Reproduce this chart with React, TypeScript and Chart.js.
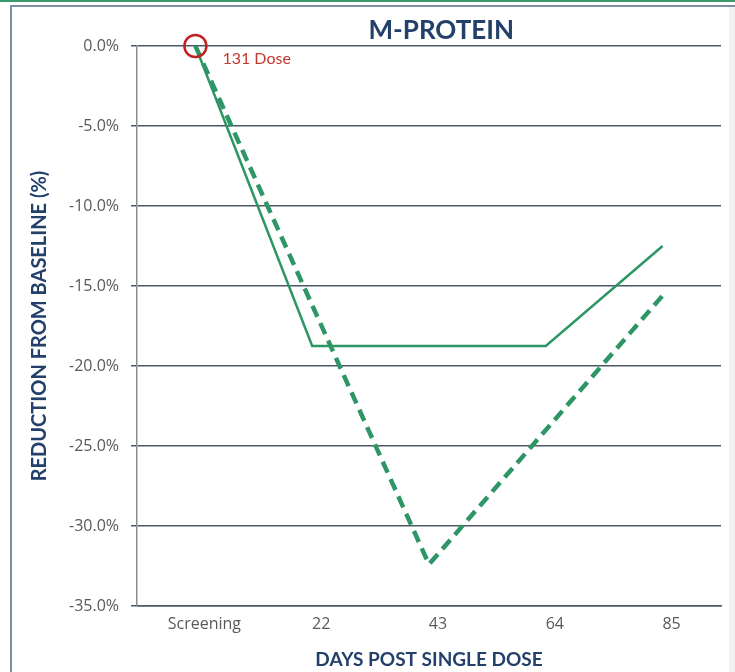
import React, { useEffect, useRef } from "react";
import { Chart, registerables } from "chart.js";

Chart.register(...registerables);

// ---- data ----
const categories = ["Screening", "22", "43", "64", "85"];
const solidSeries = [0, -18.75, -18.75, -18.75, -12.5];
const dashedSeries: (number | null)[] = [0, null, -32.4, null, -15.6];
const yMin = -35;
const yMax = 0;
const yStep = 5;
const chartTitle = "M-PROTEIN";
const xTitle = "DAYS POST SINGLE DOSE";
const yTitle = "REDUCTION FROM BASELINE (%)";
const annotationText = "131 Dose";

const FONT = "Lato, 'Open Sans', sans-serif";
const TICK_FONT = "'Open Sans', Lato, sans-serif";
const GREEN = "#2e9665";
const NAVY = "#22406a";

const overlayPlugin = {
  id: "overlay",
  afterDatasetsDraw(chart: any) {
    const { ctx, chartArea } = chart;
    ctx.save();
    ctx.font = `bold 26px ${FONT}`;
    ctx.fillStyle = NAVY;
    ctx.textAlign = "center";
    ctx.textBaseline = "middle";
    ctx.fillText(
      chartTitle,
      chartArea.left + (chartArea.right - chartArea.left) * 0.521,
      chartArea.top - 15
    );
    const pt = chart.getDatasetMeta(0).data[0];
    if (pt) {
      ctx.font = `16px ${FONT}`;
      ctx.fillStyle = "#c0392b";
      ctx.textAlign = "left";
      ctx.fillText(annotationText, pt.x + 27, pt.y + 13);
    }
    ctx.restore();
  },
};

export default function App() {
  const canvasRef = useRef<HTMLCanvasElement | null>(null);

  useEffect(() => {
    if (!canvasRef.current) return;
    const chart = new Chart(canvasRef.current, {
      type: "line",
      data: {
        labels: categories,
        datasets: [
          {
            label: "Solid",
            data: solidSeries,
            borderColor: GREEN,
            borderWidth: 2.5,
            fill: false,
            tension: 0,
            clip: false,
            pointRadius: [11, 0, 0, 0, 0],
            pointHoverRadius: 0,
            pointBorderColor: "#c0201f",
            pointBackgroundColor: "rgba(0,0,0,0)",
            pointBorderWidth: 2.5,
          },
          {
            label: "Dashed",
            data: dashedSeries,
            borderColor: GREEN,
            borderWidth: 4.5,
            borderDash: [12, 7],
            spanGaps: true,
            fill: false,
            tension: 0,
            pointRadius: 0,
          },
        ],
      },
      options: {
        animation: false,
        responsive: true,
        maintainAspectRatio: false,
        layout: { padding: { left: 24, right: 14, top: 46, bottom: 0 } },
        plugins: {
          legend: { display: false },
          title: { display: false },
          tooltip: { enabled: false },
        },
        scales: {
          x: {
            type: "category",
            offset: true,
            grid: { display: false, drawTicks: false },
            border: { display: true, color: "#4b5866", width: 1.5 },
            ticks: {
              color: "#595959",
              font: { family: TICK_FONT, size: 16 },
              padding: 9,
              labelOffset: 9,
              maxRotation: 0,
              autoSkip: false,
            },
            title: {
              display: true,
              text: xTitle,
              color: NAVY,
              font: { family: FONT, size: 19, weight: "bold" },
              padding: { top: 0, bottom: 1 },
            },
            afterFit: (scale: any) => {
              scale.height = 66;
            },
          },
          y: {
            min: yMin,
            max: yMax,
            grid: {
              color: "#4b5866",
              lineWidth: 1.5,
              drawTicks: true,
              tickLength: 6,
            },
            border: { display: true, color: "#8c8c8c", width: 1.5 },
            ticks: {
              stepSize: yStep,
              color: "#595959",
              font: { family: TICK_FONT, size: 16 },
              padding: 12,
              callback: (v: any) => Number(v).toFixed(1) + "%",
            },
            title: {
              display: true,
              text: yTitle,
              color: NAVY,
              font: { family: FONT, size: 20, weight: "bold" },
              padding: { top: 4, bottom: 0 },
            },
            afterFit: (scale: any) => {
              scale.width = 137 - 24;
            },
          },
        },
      },
      plugins: [overlayPlugin],
    });
    return () => chart.destroy();
  }, []);

  return (
    <div
      style={{
        position: "absolute",
        left: 0,
        top: 0,
        width: 735,
        height: 672,
        background: "#ffffff",
        overflow: "hidden",
      }}
    >
      <div style={{ position: "absolute", left: 0, top: 0, width: 735, height: 2, background: "#3a9a6e" }} />
      <div style={{ position: "absolute", left: 10, top: 5, width: 725, height: 2, background: "#7d8fa3" }} />
      <div style={{ position: "absolute", left: 10, top: 5, width: 2, height: 667, background: "#7d8fa3" }} />
      <div style={{ position: "absolute", left: 729, top: 7, width: 6, height: 665, background: "#f1f1f1" }} />
      <div style={{ position: "absolute", left: 0, top: 0, width: 735, height: 672 }}>
        <canvas ref={canvasRef} />
      </div>
    </div>
  );
}
